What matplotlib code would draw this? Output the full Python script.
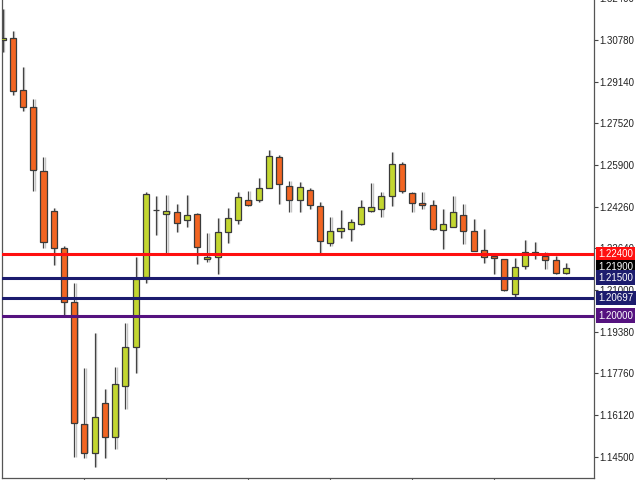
import matplotlib.pyplot as plt
import matplotlib.transforms as mtransforms

# candles, oldest first
opens = [1.30789, 1.30844, 1.28824, 1.28160, 1.25660, 1.24098, 1.22652, 1.20543,
         1.15777, 1.14645, 1.16598, 1.15270, 1.17262, 1.18785, 1.21520, 1.24149,
         1.23981, 1.24059, 1.23746, 1.23981, 1.22234, 1.22289, 1.23289, 1.23746,
         1.24527, 1.24516, 1.24984, 1.26196, 1.25074, 1.24527, 1.24907, 1.24281,
         1.22859, 1.23305, 1.23406, 1.23578, 1.24086, 1.24176, 1.24684, 1.25934,
         1.24801, 1.24410, 1.24332, 1.23355, 1.23484, 1.23941, 1.23305, 1.22562,
         1.22352, 1.22223, 1.20855, 1.21938, 1.22496, 1.22352, 1.22172, 1.21688]
highs = [1.31988, 1.31141, 1.29735, 1.28473, 1.26207, 1.24215, 1.22731, 1.21285,
         1.17965, 1.19332, 1.17145, 1.18004, 1.19723, 1.22301, 1.24840, 1.24684,
         1.24723, 1.24371, 1.24734, 1.24020, 1.23250, 1.23836, 1.24215, 1.24840,
         1.24879, 1.25387, 1.26481, 1.26285, 1.25258, 1.25231, 1.24985, 1.24449,
         1.23852, 1.24137, 1.23774, 1.24530, 1.25180, 1.24840, 1.26414, 1.26000,
         1.24852, 1.24840, 1.24508, 1.24176, 1.24684, 1.24371, 1.23774, 1.23383,
         1.22352, 1.22223, 1.22262, 1.22960, 1.22870, 1.22508, 1.22352, 1.22055]
lows = [1.30309, 1.28629, 1.28004, 1.24879, 1.22652, 1.21988, 1.20035, 1.14488,
        1.14449, 1.14098, 1.14449, 1.14801, 1.16363, 1.17770, 1.21285, 1.23160,
        1.22457, 1.23277, 1.23484, 1.22027, 1.22105, 1.21625, 1.22859, 1.23590,
        1.24310, 1.24461, 1.24977, 1.24359, 1.24059, 1.24059, 1.24164, 1.22418,
        1.22730, 1.23055, 1.22938, 1.23570, 1.24059, 1.23875, 1.24281, 1.24789,
        1.24047, 1.24188, 1.23344, 1.22613, 1.23484, 1.22797, 1.22523, 1.22078,
        1.21625, 1.20990, 1.20750, 1.21820, 1.22211, 1.21832, 1.21625, 1.21637]
closes = [1.30867, 1.28785, 1.28160, 1.25699, 1.22887, 1.22652, 1.20543, 1.15817,
          1.14645, 1.16051, 1.15270, 1.17340, 1.18785, 1.21453, 1.24762, 1.24149,
          1.24098, 1.23641, 1.23941, 1.22691, 1.22312, 1.23289, 1.23836, 1.24645,
          1.24332, 1.25008, 1.26234, 1.25141, 1.24527, 1.25035, 1.24320, 1.22938,
          1.23316, 1.23422, 1.23668, 1.24242, 1.24242, 1.24684, 1.25922, 1.24879,
          1.24398, 1.24320, 1.23395, 1.23590, 1.24059, 1.23305, 1.22547, 1.22289,
          1.22273, 1.21012, 1.21910, 1.22484, 1.22406, 1.22184, 1.21664, 1.21883]

# horizontal levels and the current price
levels = [1.22400, 1.21500, 1.20697, 1.20000]
level_colors = ['#ff1010', '#1c1c6e', '#1c1c6e', '#55127f']
last_price = 1.21900

price_ticks = [1.32400, 1.30780, 1.29140, 1.27520, 1.25900, 1.24260, 1.22640,
               1.21000, 1.19380, 1.17760, 1.16120, 1.14500]

up_color = '#c3d630'
down_color = '#f26522'
edge = '#3a3a3a'

fig = plt.figure(figsize=(6.4, 4.8), dpi=100)
ax = fig.add_axes([2 / 640, 2 / 480, 592 / 640, 480 / 480])

x = list(range(len(opens)))
colors = [up_color if c >= o else down_color for o, c in zip(opens, closes)]
bottoms = [min(o, c) for o, c in zip(opens, closes)]
heights = [abs(c - o) for o, c in zip(opens, closes)]

# light shadow behind the candles
sx = [i + 0.13 for i in x]
ax.vlines(sx, lows, highs, color='#c4c4c4', lw=1.0, zorder=1)
ax.bar(sx, heights, 0.59, bottom=bottoms, color='#cfcfcf', zorder=1)

ax.vlines(x, lows, highs, color='#444444', lw=0.9, zorder=2)
ax.bar(x, heights, 0.59, bottom=bottoms, color=colors, edgecolor=edge,
       linewidth=0.9, zorder=3)

ax.set_xlim(-0.05, 57.75)
ax.set_ylim(1.13668, 1.32418)

for lv, col in zip(levels, level_colors):
    ax.axhline(lv, color=col, lw=2.2, zorder=4)

ax.yaxis.tick_right()
ax.set_yticks(price_ticks)
ax.set_yticklabels([f'{t:.5f}' for t in price_ticks])
ax.tick_params(axis='y', direction='out', length=3, width=0.8, color='#444444',
               labelsize=7, labelcolor='#222222', pad=1)
ax.set_xticks([8, 16, 24, 32, 40, 48])
ax.set_xticklabels([])
ax.tick_params(axis='x', direction='out', length=2, width=0.8, color='#666666')

for s in ['left', 'right', 'bottom']:
    ax.spines[s].set_color('#555555')
    ax.spines[s].set_linewidth(0.9)
ax.spines['top'].set_visible(False)

for lab in ax.get_yticklabels():
    lab.set_fontfamily('Liberation Sans')

# price boxes on the right scale
trans = mtransforms.blended_transform_factory(ax.transAxes, ax.transData)
box_vals = levels[:1] + [last_price] + levels[1:]
box_cols = level_colors[:1] + ['#000000'] + level_colors[1:]
for v, col in zip(box_vals, box_cols):
    ax.text(1 + 4 / 592, v, f'{v:.5f}', transform=trans, ha='left', va='center',
            fontsize=7, family='Liberation Sans', color='white', clip_on=False,
            zorder=10,
            bbox=dict(boxstyle='square,pad=0.25', fc=col, ec='none'))

fig.savefig('out.png', dpi=100)
